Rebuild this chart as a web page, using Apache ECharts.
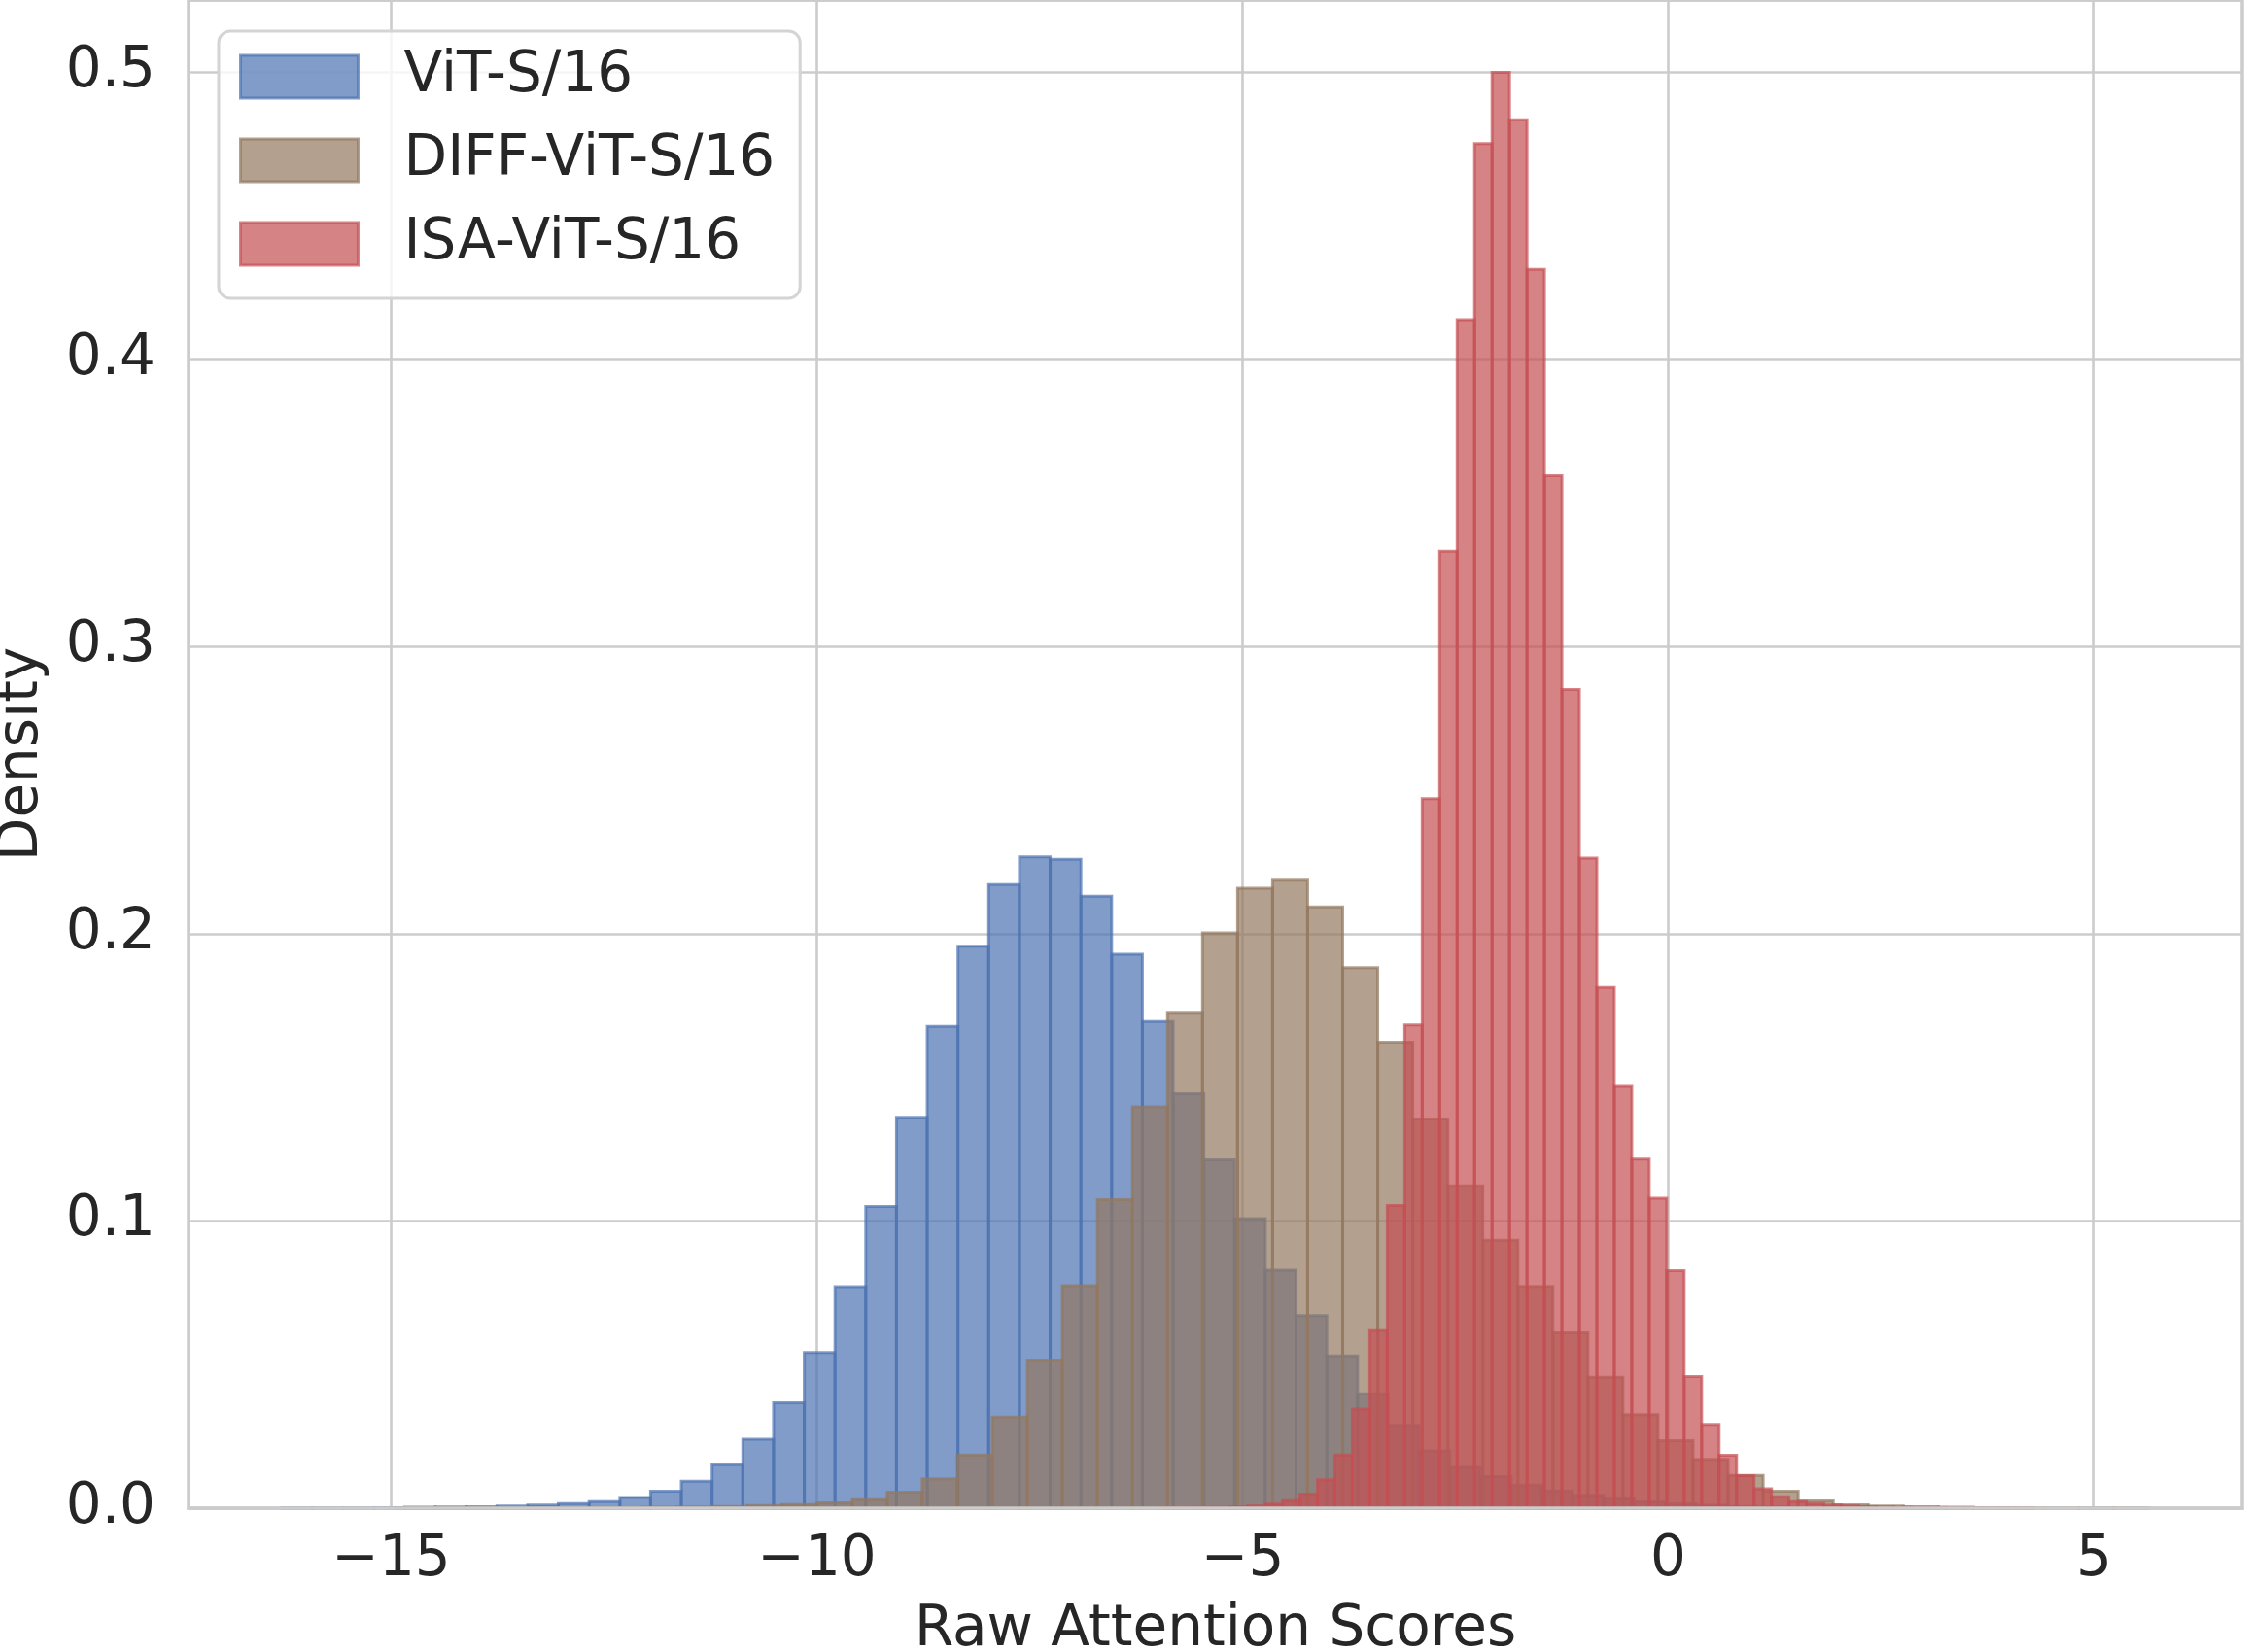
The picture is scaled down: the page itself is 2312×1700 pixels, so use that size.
<!DOCTYPE html>
<html>
<head>
<meta charset="utf-8">
<script src="https://cdn.jsdelivr.net/npm/echarts@6/dist/echarts.min.js"></script>
<style>
  html, body { margin: 0; padding: 0; background: #fff; }
  #chart { width: 2312px; height: 1700px; }
</style>
</head>
<body>
<div id="chart"></div>
<script>
// histogram bins: first edge, bin width, density of each of the 50 bins
const vitStart = -16.285, vitWidth = 0.3610;
const vitDensity = [
  0.0001, 0.0001, 0.0001, 0.0002, 0.0003, 0.0004, 0.0005, 0.0008, 0.0011, 0.0016,
  0.0023, 0.0037, 0.0059, 0.0094, 0.0151, 0.0240, 0.0367, 0.0542, 0.0771, 0.1050,
  0.1361, 0.1677, 0.1956, 0.2171, 0.2267, 0.2259, 0.2130, 0.1928, 0.1694, 0.1443,
  0.1213, 0.1008, 0.0829, 0.0671, 0.0530, 0.0398, 0.0288, 0.0200, 0.0142, 0.0110,
  0.0080, 0.0060, 0.0045, 0.0033, 0.0022, 0.0015, 0.0010, 0.0006, 0.0004, 0.0002
];
const diffStart = -14.935, diffWidth = 0.4115;
const diffDensity = [
  0.0001, 0.0001, 0.0001, 0.0001, 0.0001, 0.0002, 0.0002, 0.0003, 0.0004, 0.0006,
  0.0009, 0.0013, 0.0019, 0.0030, 0.0056, 0.0102, 0.0185, 0.0317, 0.0514, 0.0775,
  0.1074, 0.1397, 0.1726, 0.2003, 0.2158, 0.2186, 0.2093, 0.1882, 0.1622, 0.1355,
  0.1122, 0.0933, 0.0772, 0.0611, 0.0456, 0.0326, 0.0235, 0.0170, 0.0114, 0.0059,
  0.0025, 0.0012, 0.0008, 0.0005, 0.0003, 0.0002, 0.0001, 0.0001, 0.0001, 0.0001
];
const isaStart = -5.967, isaWidth = 0.2051;
const isaDensity = [
  0.0001, 0.0001, 0.0002, 0.0003, 0.0005, 0.0008, 0.0014, 0.0026, 0.0049, 0.0099,
  0.0185, 0.0345, 0.0618, 0.1054, 0.1682, 0.2470, 0.3331, 0.4137, 0.4750, 0.4998,
  0.4833, 0.4312, 0.3594, 0.2850, 0.2263, 0.1812, 0.1468, 0.1215, 0.1079, 0.0827,
  0.0458, 0.0292, 0.0184, 0.0113, 0.0068, 0.0040, 0.0023, 0.0015, 0.0011, 0.0008,
  0.0005, 0.0004, 0.0003, 0.0002, 0.0002, 0.0001, 0.0001, 0.0001, 0.0001, 0.0001
];
const seriesNames = ['ViT-S/16', 'DIFF-ViT-S/16', 'ISA-ViT-S/16'];
const xTicks = [-15, -10, -5, 0, 5];

const FONT = 'DejaVu Sans';
const FS = 58;
const TEXT = '#262626';
const GRID = '#cccccc';
const colors = ['rgba(76,114,176,0.7)', 'rgba(147,120,96,0.7)', 'rgba(196,78,82,0.7)'];

function toBins(start, width, dens) {
  return dens.map((d, i) => [start + i * width, start + (i + 1) * width, d]);
}

function renderBin(color) {
  return function (params, api) {
    let a = api.coord([api.value(0), api.value(2)]);
    let b = api.coord([api.value(1), 0]);
    return {
      type: 'rect',
      shape: { x: a[0], y: a[1], width: b[0] - a[0], height: b[1] - a[1] },
      style: { fill: color, stroke: color, lineWidth: 3 }
    };
  };
}

const bins = [
  toBins(vitStart, vitWidth, vitDensity),
  toBins(diffStart, diffWidth, diffDensity),
  toBins(isaStart, isaWidth, isaDensity)
];

function fmtX(v) {
  return v < 0 ? '\u2212' + Math.abs(v) : String(v);
}

let chart = echarts.init(document.getElementById('chart'));
chart.setOption({
  animation: false,
  backgroundColor: '#fff',
  grid: {
    left: 194, right: 5, top: 0, bottom: 148,
    containLabel: false, outerBoundsMode: 'none',
    show: true, borderColor: GRID, borderWidth: 3.5
  },
  legend: {
    orient: 'vertical',
    left: 225, top: 32,
    padding: [18, 26, 27, 21],
    itemWidth: 121, itemHeight: 44, itemGap: 28,
    selectedMode: false,
    backgroundColor: 'rgba(255,255,255,0.8)',
    borderColor: '#d4d4d4', borderWidth: 3, borderRadius: 12,
    textStyle: { fontFamily: FONT, fontSize: FS, lineHeight: FS, color: TEXT, padding: [0, 0, 0, 42] },
    data: seriesNames.map((n, i) => ({
      name: n, icon: 'rect',
      itemStyle: { color: colors[i], borderColor: colors[i], borderWidth: 3 }
    }))
  },
  xAxis: [{
    type: 'value', min: -17.38, max: 6.74,
    name: 'Raw Attention Scores', nameLocation: 'middle', nameGap: 97,
    nameTextStyle: { fontFamily: FONT, fontSize: FS, color: TEXT },
    axisLine: { show: false },
    axisTick: { show: false, customValues: xTicks },
    axisLabel: {
      customValues: xTicks, formatter: fmtX, margin: 25,
      fontFamily: FONT, fontSize: FS, color: TEXT
    },
    splitLine: { show: true, lineStyle: { color: GRID, width: 2.6 } }
  }, {
    // bottom spine drawn above the bars
    type: 'value', min: -17.38, max: 6.74, position: 'bottom', z: 10,
    axisLine: { show: true, lineStyle: { color: GRID, width: 3.5 } },
    axisTick: { show: false }, axisLabel: { show: false }, splitLine: { show: false }
  }],
  yAxis: {
    type: 'value', min: 0, max: 0.525, interval: 0.1,
    name: 'Density', nameLocation: 'middle', nameGap: 142, nameRotate: 90,
    nameTextStyle: { fontFamily: FONT, fontSize: FS, color: TEXT },
    axisLine: { show: false },
    axisTick: { show: false },
    axisLabel: {
      formatter: v => v.toFixed(1), margin: 34,
      fontFamily: FONT, fontSize: FS, color: TEXT, showMaxLabel: false
    },
    splitLine: { show: true, lineStyle: { color: GRID, width: 2.6 } }
  },
  series: seriesNames.map((n, i) => ({
    name: n,
    type: 'custom',
    xAxisIndex: 0,
    renderItem: renderBin(colors[i]),
    itemStyle: { color: colors[i] },
    encode: { x: [0, 1], y: 2 },
    data: bins[i]
  }))
});
</script>
</body>
</html>
